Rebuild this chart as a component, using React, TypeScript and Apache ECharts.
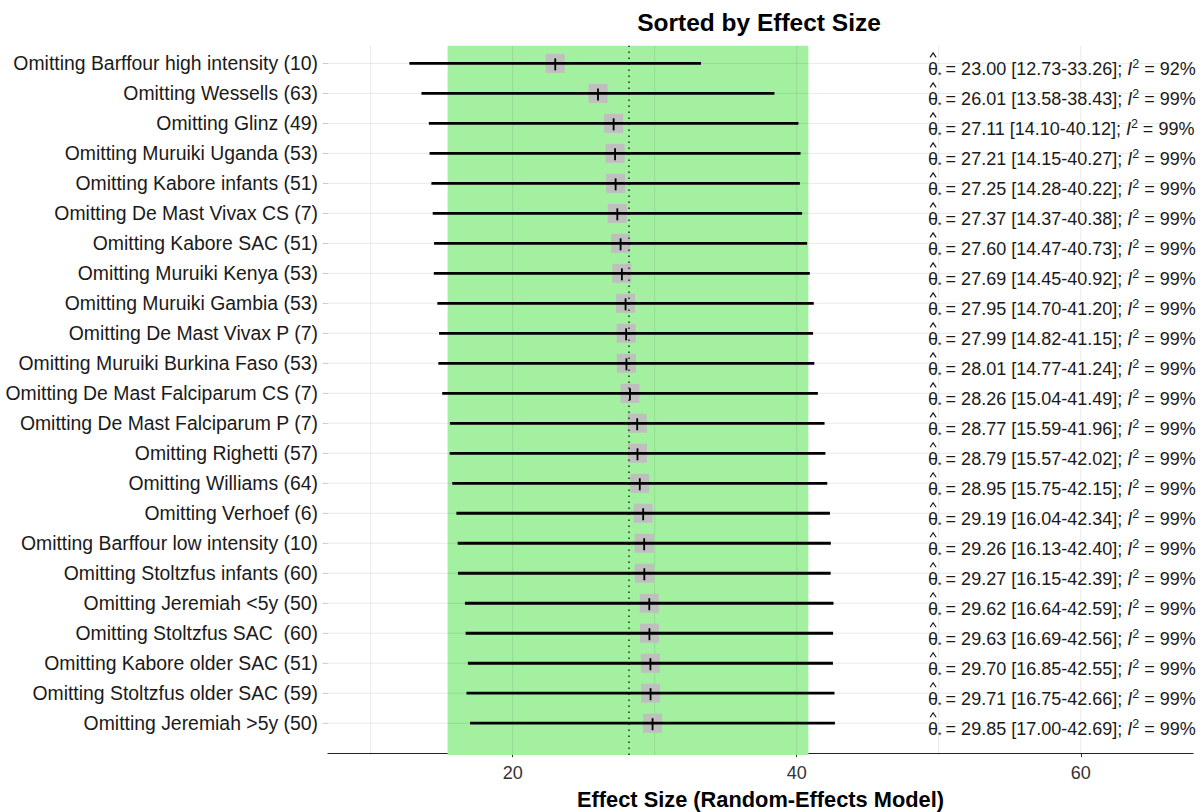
import React, { useEffect, useRef } from "react";
import * as echarts from "echarts";

const labels = [
  "Omitting Barffour high intensity (10)",
  "Omitting Wessells (63)",
  "Omitting Glinz (49)",
  "Omitting Muruiki Uganda (53)",
  "Omitting Kabore infants (51)",
  "Omitting De Mast Vivax CS (7)",
  "Omitting Kabore SAC (51)",
  "Omitting Muruiki Kenya (53)",
  "Omitting Muruiki Gambia (53)",
  "Omitting De Mast Vivax P (7)",
  "Omitting Muruiki Burkina Faso (53)",
  "Omitting De Mast Falciparum CS (7)",
  "Omitting De Mast Falciparum P (7)",
  "Omitting Righetti (57)",
  "Omitting Williams (64)",
  "Omitting Verhoef (6)",
  "Omitting Barffour low intensity (10)",
  "Omitting Stoltzfus infants (60)",
  "Omitting Jeremiah <5y (50)",
  "Omitting Stoltzfus SAC  (60)",
  "Omitting Kabore older SAC (51)",
  "Omitting Stoltzfus older SAC (59)",
  "Omitting Jeremiah >5y (50)",
];
const estimates = [23.0, 26.01, 27.11, 27.21, 27.25, 27.37, 27.6, 27.69, 27.95, 27.99, 28.01, 28.26, 28.77, 28.79, 28.95, 29.19, 29.26, 29.27, 29.62, 29.63, 29.7, 29.71, 29.85];
const lower = [12.73, 13.58, 14.1, 14.15, 14.28, 14.37, 14.47, 14.45, 14.7, 14.82, 14.77, 15.04, 15.59, 15.57, 15.75, 16.04, 16.13, 16.15, 16.64, 16.69, 16.85, 16.75, 17.0];
const upper = [33.26, 38.43, 40.12, 40.27, 40.22, 40.38, 40.73, 40.92, 41.2, 41.15, 41.24, 41.49, 41.96, 42.02, 42.15, 42.34, 42.4, 42.39, 42.59, 42.56, 42.55, 42.66, 42.69];
const i2 = [92, 99, 99, 99, 99, 99, 99, 99, 99, 99, 99, 99, 99, 99, 99, 99, 99, 99, 99, 99, 99, 99, 99];
const pooledEstimate = 28.19;
const pooledLower = 15.42;
const pooledUpper = 40.82;
const xTickValues = [20, 40, 60];
const xGridValues = [10, 20, 30, 40, 50, 60];
const annotationX = 49.25;

const FONT = '"Liberation Sans", Arial, Helvetica, sans-serif';
const n = labels.length;
const rowY = (i: number) => n - i;

export default function App() {
  const ref = useRef<HTMLDivElement>(null);
  useEffect(() => {
    if (!ref.current) return;
    const chart = echarts.init(ref.current, null, { renderer: "svg" });
    const rows = labels.map((_, i) => i);
    const option: any = {
      animation: false,
      backgroundColor: "#ffffff",
      textStyle: { fontFamily: FONT },
      graphic: [
        {
          type: "text",
          x: 759,
          y: 22,
          style: {
            text: "Sorted by Effect Size",
            fill: "#000",
            font: `bold 24.5px ${FONT}`,
            align: "center",
            verticalAlign: "middle",
            textAlign: "center",
            textVerticalAlign: "middle",
          },
        },
      ],
      grid: {
        left: 328,
        right: 10,
        top: 45.7,
        bottom: 57,
        containLabel: false,
        outerBoundsMode: "none",
      },
      xAxis: {
        type: "value",
        min: 7,
        max: 67.9,
        name: "Effect Size (Random-Effects Model)",
        nameLocation: "middle",
        nameGap: 33,
        nameTextStyle: { fontFamily: FONT, fontWeight: "bold", fontSize: 21.8, color: "#000" },
        axisLine: { show: true, lineStyle: { color: "#222", width: 1.2 } },
        axisTick: { show: true, length: 4, customValues: xTickValues, lineStyle: { color: "#333" } },
        axisLabel: { customValues: xTickValues, fontSize: 18, color: "#333", margin: 9, fontFamily: FONT },
        splitLine: { show: false },
      },
      yAxis: {
        type: "value",
        min: -0.06,
        max: 23.59,
        axisLine: { show: false },
        axisTick: {
          show: true,
          length: 5,
          customValues: rows.map((i) => rowY(i)),
          lineStyle: { color: "#dddddd" },
        },
        axisLabel: {
          customValues: rows.map((i) => rowY(i)),
          formatter: (v: number) => labels[n - Math.round(v)] ?? "",
          fontSize: 19.4,
          color: "#1a1a1a",
          margin: 10,
          fontFamily: FONT,
        },
        splitLine: { show: false },
      },
      series: [
        {
          type: "line",
          data: [],
          z: 1,
          silent: true,
          markArea: {
            silent: true,
            itemStyle: { color: "#a2f0a0", opacity: 1 },
            data: [[{ xAxis: pooledLower, yAxis: -0.06 }, { xAxis: pooledUpper, yAxis: 23.59 }]],
          },
        },
        {
          type: "custom",
          z: 2,
          silent: true,
          clip: false,
          data: [
            ...xGridValues.map((v) => [v, 0, 0]),
            ...rows.map((i) => [0, rowY(i), 1]),
          ],
          encode: { x: 0, y: 1 },
          renderItem: (params: any, api: any) => {
            const cs = params.coordSys;
            const kind = api.value(2);
            if (kind === 0) {
              const p = api.coord([api.value(0), 0]);
              return {
                type: "line",
                shape: { x1: p[0], y1: cs.y, x2: p[0], y2: cs.y + cs.height },
                style: { stroke: "rgba(0,0,0,0.085)", lineWidth: 1 },
              };
            }
            const p = api.coord([7, api.value(1)]);
            return {
              type: "line",
              shape: { x1: cs.x - 6, y1: p[1], x2: cs.x + cs.width, y2: p[1] },
              style: { stroke: "rgba(0,0,0,0.085)", lineWidth: 1 },
            };
          },
        },
        {
          type: "line",
          data: [],
          z: 3,
          silent: true,
          markLine: {
            silent: true,
            symbol: ["none", "none"],
            label: { show: false },
            lineStyle: { color: "#1d3b1d", width: 1.6, type: [1.6, 4.4] },
            data: [{ xAxis: pooledEstimate }],
          },
        },
        {
          type: "scatter",
          z: 4,
          silent: true,
          symbol: "rect",
          symbolSize: 19,
          itemStyle: { color: "#bfbfbf", opacity: 1 },
          data: estimates.map((e, i) => [e, rowY(i)]),
        },
        {
          type: "custom",
          z: 5,
          silent: true,
          data: estimates.map((e, i) => [lower[i], upper[i], rowY(i), e]),
          encode: { x: [0, 1], y: 2 },
          renderItem: (params: any, api: any) => {
            const y = api.value(2);
            const a = api.coord([api.value(0), y]);
            const b = api.coord([api.value(1), y]);
            const c = api.coord([api.value(3), y]);
            return {
              type: "group",
              children: [
                {
                  type: "line",
                  shape: { x1: a[0], y1: a[1], x2: b[0], y2: b[1] },
                  style: { stroke: "#000", lineWidth: 2.8 },
                },
                {
                  type: "line",
                  shape: { x1: c[0], y1: c[1] - 5, x2: c[0], y2: c[1] + 7 },
                  style: { stroke: "#000", lineWidth: 1.8 },
                },
              ],
            };
          },
        },
        {
          type: "custom",
          z: 6,
          silent: true,
          clip: false,
          data: estimates.map((e, i) => [annotationX, rowY(i), i]),
          encode: { x: 0, y: 1 },
          renderItem: (params: any, api: any) => {
            const i = api.value(2);
            const p = api.coord([api.value(0), api.value(1)]);
            const txt =
              `{th|θ}{st|*}{n|= ${estimates[i].toFixed(2)} [${lower[i].toFixed(2)}-${upper[i].toFixed(2)}]; }` +
              `{it|I}{sup|2}{n| = ${i2[i]}%}`;
            return {
              type: "group",
              children: [
                {
                  type: "text",
                  x: p[0],
                  y: p[1] + 5.5,
                  style: {
                    text: txt,
                    align: "left",
                    verticalAlign: "middle",
                    fill: "#1a1a1a",
                    font: `18px ${FONT}`,
                    rich: {
                      th: { fontSize: 18, fontFamily: FONT, lineHeight: 22, fill: "#1a1a1a" },
                      st: { fontSize: 9, fontFamily: FONT, lineHeight: 14, verticalAlign: "bottom", fill: "#1a1a1a", padding: [0, 4, 0, 0] },
                      n: { fontSize: 18, fontFamily: FONT, lineHeight: 22, fill: "#1a1a1a" },
                      it: { fontSize: 18, fontFamily: FONT, fontStyle: "italic", lineHeight: 22, fill: "#1a1a1a" },
                      sup: { fontSize: 12.5, fontFamily: FONT, lineHeight: 10, verticalAlign: "top", fill: "#1a1a1a" },
                    },
                  },
                },
                {
                  type: "polyline",
                  shape: {
                    points: [
                      [p[0] + 2, p[1] - 6],
                      [p[0] + 5, p[1] - 10.5],
                      [p[0] + 8, p[1] - 6],
                    ],
                  },
                  style: { stroke: "#1a1a1a", lineWidth: 1.2, fill: "none" },
                },
              ],
            };
          },
        },
      ],
    };
    chart.setOption(option);
    return () => chart.dispose();
  }, []);
  return (
    <div
      ref={ref}
      style={{ position: "fixed", left: 0, top: 0, width: 1203, height: 812, background: "#fff" }}
    />
  );
}
